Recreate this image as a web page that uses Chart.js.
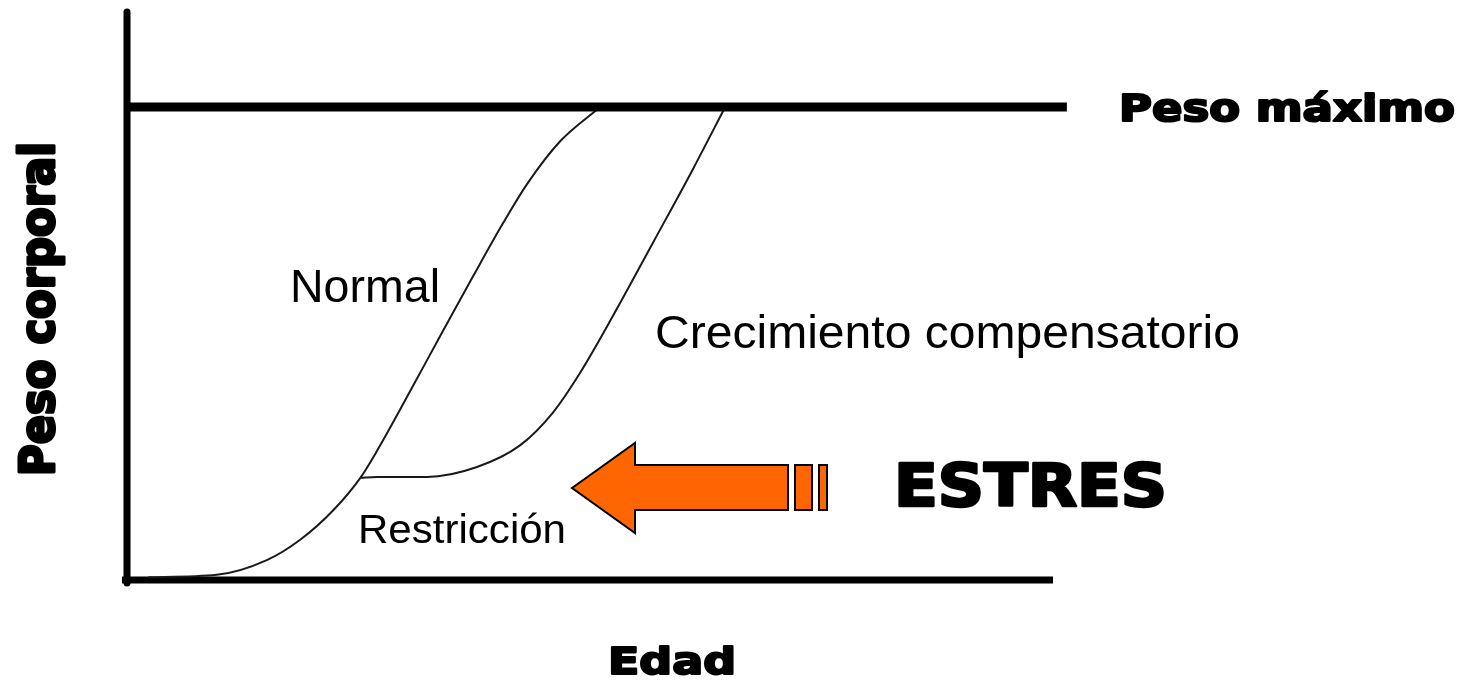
<!DOCTYPE html>
<html>
<head>
<meta charset="utf-8">
<script src="https://cdn.jsdelivr.net/npm/chart.js@4.4.0/dist/chart.umd.min.js"></script>
<style>
  html, body { margin: 0; padding: 0; background: #fff; }
  #wrap { width: 1479px; height: 682px; position: relative; }
</style>
</head>
<body>
<div id="wrap"><canvas id="chart"></canvas></div>
<script>
// Edad (x) vs peso corporal (y), arbitrary units, max weight = 100
const normalAge = [2.3, 9.7, 15.1, 18.7, 22.3, 25.2, 27.0, 30.6, 34.1, 37.4, 40.6, 43.2, 46.8, 51.1];
const normalWeight = [0.6, 1.1, 4.2, 8.5, 14.8, 21.6, 27.3, 40.0, 52.6, 64.3, 75.4, 83.7, 92.8, 100];
const compAge = [25.2, 27.0, 32.4, 37.8, 42.4, 46.0, 48.9, 52.5, 56.8, 61.1, 64.6];
const compWeight = [21.6, 21.8, 21.8, 23.9, 28.4, 35.4, 43.7, 55.9, 71.3, 86.8, 100];
const maxAge = [0, 101.5];
const maxWeight = [100, 100];

const toPoints = (xs, ys) => xs.map((x, i) => ({ x: x, y: ys[i] }));

// axes + arrow + labels
const decorPlugin = {
    id: 'decor',
    beforeDatasetsDraw(chart) {
        const ctx = chart.ctx;
        const a = chart.chartArea;
        ctx.save();
        ctx.strokeStyle = '#000';
        ctx.lineWidth = 7;
        ctx.lineCap = 'round';
        ctx.beginPath();
        ctx.moveTo(a.left, a.top + 2);
        ctx.lineTo(a.left, a.bottom + 3);
        ctx.stroke();
        ctx.lineCap = 'butt';
        ctx.beginPath();
        ctx.moveTo(a.left - 5, a.bottom);
        ctx.lineTo(a.right, a.bottom);
        ctx.stroke();
        ctx.restore();
    },
    afterDraw(chart) {
        const ctx = chart.ctx;
        ctx.save();

        // orange arrow
        ctx.fillStyle = '#FF6600';
        ctx.strokeStyle = '#000';
        ctx.lineWidth = 2;
        ctx.lineJoin = 'miter';
        ctx.beginPath();
        ctx.moveTo(572, 488);
        ctx.lineTo(635, 443);
        ctx.lineTo(635, 465);
        ctx.lineTo(788, 465);
        ctx.lineTo(788, 510);
        ctx.lineTo(635, 510);
        ctx.lineTo(635, 533);
        ctx.closePath();
        ctx.fill();
        ctx.stroke();
        [[795, 17], [819, 8]].forEach(([x, w]) => {
            ctx.fillRect(x, 465, w, 45);
            ctx.strokeRect(x, 465, w, 45);
        });

        const heavy = '"DejaVu Sans", sans-serif';
        const plain = '"Liberation Sans", Arial, sans-serif';

        function label(text, x, y, size, family, bold, width, rot) {
            ctx.save();
            ctx.font = (bold ? 'bold ' : '') + size + 'px ' + family;
            ctx.fillStyle = '#000';
            ctx.strokeStyle = '#000';
            ctx.lineJoin = 'round';
            ctx.textBaseline = 'alphabetic';
            ctx.textAlign = 'left';
            const w = ctx.measureText(text).width;
            const sx = width ? width / w : 1;
            ctx.translate(x, y);
            if (rot) ctx.rotate(rot);
            ctx.scale(sx, 1);
            ctx.fillText(text, 0, 0);
            if (bold) {
                ctx.lineWidth = bold / sx;
                ctx.strokeText(text, 0, 0);
            }
            ctx.restore();
        }

        label('Peso máximo', 1119, 121, 38, heavy, 2.6, 336);
        label('ESTRES', 894, 506, 58, heavy, 3, 273);
        label('Edad', 608, 674, 38, heavy, 2.6, 128);
        label('Peso corporal', 54, 476, 48, heavy, 2.8, 334, -Math.PI / 2);
        label('Normal', 290, 302, 46, plain, 0, 150);
        label('Crecimiento compensatorio', 655, 348, 46, plain, 0, 585);
        label('Restricción', 358, 543, 40, plain, 0, 208);

        ctx.restore();
    }
};

const ctx = document.getElementById('chart').getContext('2d');
new Chart(ctx, {
    type: 'scatter',
    data: {
        datasets: [
            {
                label: 'Peso máximo',
                data: toPoints(maxAge, maxWeight),
                showLine: true,
                borderColor: '#000',
                borderWidth: 9,
                pointRadius: 0,
                clip: false
            },
            {
                label: 'Normal',
                data: toPoints(normalAge, normalWeight),
                showLine: true,
                borderColor: '#1a1a1a',
                borderWidth: 2,
                pointRadius: 0,
                cubicInterpolationMode: 'monotone',
                clip: false
            },
            {
                label: 'Crecimiento compensatorio',
                data: toPoints(compAge, compWeight),
                showLine: true,
                borderColor: '#1a1a1a',
                borderWidth: 2,
                pointRadius: 0,
                cubicInterpolationMode: 'monotone',
                clip: false
            }
        ]
    },
    options: {
        responsive: true,
        maintainAspectRatio: false,
        animation: false,
        layout: { padding: { left: 127, right: 426, top: 10, bottom: 102 } },
        plugins: {
            legend: { display: false },
            tooltip: { enabled: false }
        },
        scales: {
            x: { type: 'linear', min: 0, max: 100, display: false },
            y: { type: 'linear', min: 0, max: 120.5, display: false }
        }
    },
    plugins: [decorPlugin]
});
</script>
</body>
</html>
